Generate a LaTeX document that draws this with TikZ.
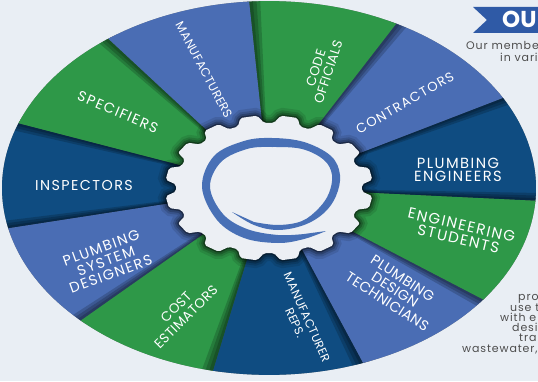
\documentclass[tikz,border=0pt]{standalone}
\usepackage{fontspec}
\setmainfont{Poppins}
\newfontfamily\segfont[LetterSpace=10]{Poppins}
\newfontfamily\tightfont[LetterSpace=3]{Poppins}
\newfontfamily\blurbfont[LetterSpace=8]{Poppins}
\definecolor{paper}{HTML}{E9EEF4}
\definecolor{midblue}{HTML}{4A6DB4}
\definecolor{leafgreen}{HTML}{2E9848}
\definecolor{navy}{HTML}{0F4C81}
\definecolor{hubfill}{HTML}{ECEFF4}
\definecolor{ringblue}{HTML}{4870B6}
\definecolor{ribbon}{HTML}{2F5AA6}
\definecolor{greytext}{HTML}{4D4D4D}
\newcommand{\gearoutline}{(0:93) foreach \t in {0,...,15} {-- ({\t*22.5+3}:93) -- ({\t*22.5+6.5}:104) -- ({\t*22.5+16}:104) -- ({\t*22.5+19.5}:93) -- ({\t*22.5+22.5}:93)} -- cycle}
\begin{document}
\begin{tikzpicture}[x=1pt, y=1pt,
    seglabel/.style 2 args={text=white, align=center, inner sep=0pt, font=\segfont\fontsize{#1}{#2}\selectfont},
    tightlabel/.style 2 args={text=white, align=center, inner sep=0pt, font=\tightfont\fontsize{#1}{#2}\selectfont},
    blurb/.style={text=greytext, anchor=base west, inner sep=0pt, font=\blurbfont\fontsize{11}{11}\selectfont}]
  \useasboundingbox (0,0) rectangle (538,381);
  \clip (0,0) rectangle (538,381);
  \fill[paper] (0,0) rectangle (538,381);
  \coordinate (hub) at (269,193);
  % wheel, drawn from the bottom layer up
  \begin{scope}[shift={(hub)}, yscale=0.7]
    \foreach \k/\col in {3/navy, 2/midblue, 1/leafgreen, 9/navy, 8/midblue, 7/leafgreen, 6/navy, 5/midblue, 4/leafgreen, 10/leafgreen, 0/midblue} {
      \pgfmathsetmacro{\a}{127-\k*360/11}
      \pgfmathsetmacro{\b}{\a-360/11}
      \foreach \w in {2.4,1.6,0.8}
        \fill[black, opacity=0.18] ({\a+\w}:90) -- ({\a+\w}:267) arc[start angle=\a+\w, end angle=\b-\w, radius=267] -- ({\b-\w}:90) -- cycle;
      \fill[\col] (\a:90) -- (\a:267) arc[start angle=\a, end angle=\b, radius=267] -- (\b:90) -- cycle;
    }
    % hub gear with soft shadow
    \foreach \lw/\op in {16pt/0.10, 11pt/0.14, 7pt/0.2, 3pt/0.35}
      \draw[black, line width=\lw, opacity=\op, rounded corners=2pt] \gearoutline;
    \fill[hubfill, rounded corners=2pt] \gearoutline;
  \end{scope}
  % ring logo
  \begin{scope}[shift={(hub)}]
    \fill[ringblue] plot[smooth, tension=0.6] coordinates {(57,-43) (35,-51) (9,-55) (-25,-50) (-52,-32) (-67,1) (-55,32) (-25,47) (3,50) (35,46) (62,32) (71,13) (67,-8) (55,-25) (35,-37) (9,-42) (-15,-37) (-37,-24)}
      -- plot[smooth, tension=0.6] coordinates {(-15,-34) (9,-37) (33,-33) (50,-20) (60,-5) (63,13) (55,28) (33,39) (3,41) (-22,39) (-48,26) (-59,1) (-46,-26) (-22,-41) (9,-47) (35,-46)} -- cycle;
  \end{scope}
  % segment labels
  \node[tightlabel={12.2}{12}, rotate=-62] (manufacturers) at (204,311) {MANUFACTURERS};
  \node[tightlabel={13.2}{13}, rotate=72] (codeofficials) at (322,311) {CODE\\OFFICIALS};
  \node[seglabel={13.2}{13}, rotate=30] (contractors) at (405,278) {CONTRACTORS};
  \node[seglabel={14.7}{13}] (plumbingeng) at (458,211) {PLUMBING\\ENGINEERS};
  \node[seglabel={15}{14}, rotate=-13] (engstudents) at (460,149) {ENGINEERING\\STUDENTS};
  \node[tightlabel={14.2}{14}, rotate=-33] (designtech) at (395,91) {PLUMBING\\DESIGN\\TECHNICIANS};
  \node[tightlabel={11.9}{13}, rotate=-66] (manureps) at (301,61) {MANUFACTURER\\REPS.};
  \node[tightlabel={13.4}{14}, rotate=45] (estimators) at (181,69) {COST\\ESTIMATORS};
  \node[seglabel={14.4}{14}, rotate=20] (systemdesign) at (106,120) {PLUMBING\\SYSTEM\\DESIGNERS};
  \node[seglabel={14.3}{14}] (inspectors) at (84,195) {INSPECTORS};
  \node[seglabel={14.2}{14}, rotate=-23] (specifiers) at (118,269) {SPECIFIERS};
  % title ribbon and side text
  \fill[ribbon] (473,374) -- (538,374) -- (538,348) -- (473,348) -- (487,361) -- cycle;
  \node[text=white, anchor=base west, inner sep=0pt, font=\fontsize{23}{23}\selectfont\bfseries] (title) at (502,353) {OU};
  \node[blurb] (intro1) at (466,331) {Our membe};
  \node[blurb] (intro2) at (500,319) {in vari};
  \node[blurb] (tail1) at (518,81) {pro};
  \node[blurb] (tail2) at (510,70) {use t};
  \node[blurb] (tail3) at (500,60) {with e};
  \node[blurb] (tail4) at (512,50) {desi};
  \node[blurb] (tail5) at (519,40) {tran};
  \node[blurb] (tail6) at (462,29) {wastewater, };
\end{tikzpicture}
\end{document}
